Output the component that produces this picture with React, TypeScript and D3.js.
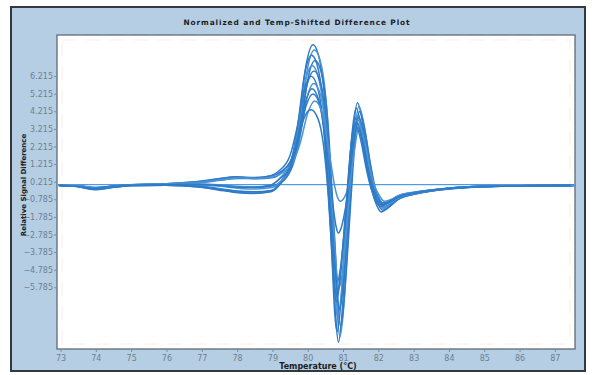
import React, { useEffect, useRef } from "react";
import * as d3 from "d3";

// temperature knots shared by every curve (°C)
const temps = [73, 73.5, 74, 74.5, 75, 76, 77, 77.5, 78, 78.5, 79, 79.25, 79.55, 79.75, 79.95, 80.15, 80.35, 80.5, 80.62, 80.72, 80.8, 80.87, 80.95, 81.05, 81.17, 81.28, 81.41, 81.56, 81.72, 81.86, 81.99, 82.12, 82.3, 82.55, 83, 83.5, 84, 85, 86, 87.5];

// small temperature offset of each sample (°C)
const shifts = [0, 0.04, -0.04, 0.06, -0.02, 0.03, -0.05, 0.02, -0.03, 0, 0.05, -0.06];

// relative signal difference of each sample
const curves = [
  [0, -0.05, -0.22, -0.1, 0, 0.02, -0.08, -0.22, -0.38, -0.42, -0.3, 0.2, 1.4, 3.6, 6.8, 8.0, 7.0, 4.4, 0.1, -4.0, -7.6, -8.9, -7.8, -4.9, -0.7, 2.8, 4.7, 3.5, 1.3, -0.2, -1.0, -1.4, -1.2, -0.8, -0.5, -0.32, -0.2, -0.07, -0.02, 0],
  [0, -0.04, -0.2, -0.08, 0.01, 0.03, -0.06, -0.18, -0.33, -0.38, -0.25, 0.25, 1.4, 3.5, 6.6, 7.7, 6.8, 4.3, 0.1, -3.9, -7.3, -8.6, -7.6, -4.7, -0.7, 2.7, 4.5, 3.4, 1.3, -0.2, -0.9, -1.3, -1.15, -0.75, -0.48, -0.3, -0.18, -0.06, -0.02, 0],
  [0, -0.06, -0.24, -0.12, -0.01, 0.01, -0.1, -0.25, -0.4, -0.45, -0.35, 0.1, 1.2, 3.3, 6.3, 7.4, 6.5, 4.1, 0.05, -3.7, -7.1, -8.3, -7.3, -4.6, -0.6, 2.6, 4.4, 3.3, 1.2, -0.3, -1.1, -1.5, -1.3, -0.85, -0.52, -0.33, -0.2, -0.07, -0.02, 0],
  [0, -0.05, -0.15, -0.05, 0.02, 0.05, 0.05, 0, -0.1, -0.12, 0, 0.4, 1.4, 3.3, 6.1, 7.1, 6.2, 3.9, 0.05, -3.6, -6.8, -8.0, -7.0, -4.4, -0.6, 2.5, 4.2, 3.1, 1.2, -0.2, -0.85, -1.2, -1.05, -0.7, -0.45, -0.28, -0.17, -0.06, -0.02, 0],
  [0, -0.04, -0.14, -0.04, 0.03, 0.06, 0.08, 0.04, -0.05, -0.08, 0.05, 0.45, 1.4, 3.2, 5.9, 6.8, 5.9, 3.7, 0.05, -3.4, -6.4, -7.5, -6.6, -4.1, -0.6, 2.4, 4.0, 3.0, 1.1, -0.2, -0.9, -1.3, -1.1, -0.75, -0.47, -0.3, -0.18, -0.06, -0.02, 0],
  [0, -0.03, -0.14, -0.05, 0.03, 0.08, 0.18, 0.3, 0.4, 0.38, 0.45, 0.8, 1.7, 3.4, 5.7, 6.5, 5.7, 3.5, 0.1, -3.2, -6.0, -7.0, -6.2, -3.9, -0.5, 2.3, 3.9, 2.9, 1.1, -0.15, -0.8, -1.1, -0.95, -0.65, -0.42, -0.27, -0.16, -0.05, -0.02, 0],
  [0, -0.03, -0.12, -0.04, 0.04, 0.1, 0.22, 0.35, 0.48, 0.42, 0.55, 0.85, 1.7, 3.3, 5.4, 6.2, 5.4, 3.3, 0.1, -2.8, -5.4, -6.3, -5.5, -3.5, -0.5, 2.3, 3.8, 2.8, 1.0, -0.2, -0.85, -1.2, -1.0, -0.7, -0.44, -0.28, -0.17, -0.06, -0.02, 0],
  [0, -0.05, -0.16, -0.06, 0.01, 0.04, 0.02, -0.05, -0.15, -0.2, -0.1, 0.3, 1.1, 2.6, 4.9, 5.8, 5.1, 3.1, 0.05, -2.6, -4.9, -5.8, -5.1, -3.2, -0.4, 2.2, 3.7, 2.7, 1.0, -0.15, -0.7, -1.0, -0.9, -0.6, -0.4, -0.26, -0.15, -0.05, -0.02, 0],
  [0, -0.06, -0.2, -0.1, 0, 0.02, -0.06, -0.2, -0.32, -0.36, -0.28, 0.1, 0.9, 2.4, 4.6, 5.5, 4.8, 2.9, 0.05, -2.5, -4.7, -5.5, -4.8, -3.0, -0.4, 2.2, 3.6, 2.7, 1.0, -0.2, -0.8, -1.1, -0.95, -0.65, -0.42, -0.27, -0.16, -0.05, -0.02, 0],
  [0, -0.03, -0.13, -0.04, 0.04, 0.1, 0.25, 0.4, 0.5, 0.45, 0.55, 0.8, 1.5, 2.7, 4.5, 5.2, 4.5, 2.8, 0.6, -1.2, -2.3, -2.7, -2.4, -1.5, 0.1, 2.1, 3.5, 2.6, 0.9, -0.15, -0.7, -1.0, -0.9, -0.6, -0.4, -0.25, -0.15, -0.05, -0.02, 0],
  [0, -0.02, -0.12, -0.03, 0.05, 0.1, 0.2, 0.32, 0.42, 0.4, 0.5, 0.75, 1.4, 2.5, 4.1, 4.8, 4.2, 2.6, 1.1, -0.1, -0.7, -0.9, -0.8, -0.4, 0.5, 2.1, 3.4, 2.5, 0.9, -0.1, -0.6, -0.9, -0.8, -0.55, -0.37, -0.24, -0.14, -0.05, -0.02, 0],
  [0, -0.05, -0.15, -0.05, 0.02, 0.05, 0.06, 0.02, -0.08, -0.1, 0, 0.35, 1.0, 2.2, 3.8, 4.3, 3.8, 2.4, 0, -3.0, -5.6, -6.6, -5.8, -3.6, -0.5, 2.1, 3.5, 2.6, 0.95, -0.2, -0.85, -1.2, -1.0, -0.7, -0.44, -0.28, -0.17, -0.06, -0.02, 0],
];

const xTicks = [73, 74, 75, 76, 77, 78, 79, 80, 81, 82, 83, 84, 85, 86, 87];
const yTicks = [6.215, 5.215, 4.215, 3.215, 2.215, 1.215, 0.215, -0.785, -1.785, -2.785, -3.785, -4.785, -5.785];

const App = () => {
  const svgRef = useRef<SVGSVGElement>(null);

  useEffect(() => {
    const W = 594;
    const H = 375;
    const plot = { left: 57, top: 35, right: 575, bottom: 349 };
    const svg = d3.select(svgRef.current).attr("width", W).attr("height", H);
    svg.selectAll("*").remove();

    // outer panel
    svg.append("rect")
      .attr("x", 11).attr("y", 7).attr("width", 574).attr("height", 364)
      .attr("fill", "#b6cee4").attr("stroke", "#34383f").attr("stroke-width", 2);

    svg.append("text")
      .attr("x", 297).attr("y", 25)
      .attr("text-anchor", "middle")
      .style("font-family", "DejaVu Sans")
      .style("font-weight", "bold")
      .style("font-size", "7.4px")
      .style("letter-spacing", "0.9px")
      .attr("fill", "#1d1d1d")
      .text("Normalized and Temp-Shifted Difference Plot");

    // plot area
    svg.append("rect")
      .attr("x", plot.left).attr("y", plot.top)
      .attr("width", plot.right - plot.left).attr("height", plot.bottom - plot.top)
      .attr("fill", "#ffffff").attr("stroke", "#5d6b78").attr("stroke-width", 1.3);

    svg.append("rect")
      .attr("x", plot.left + 5).attr("y", plot.top + 5)
      .attr("width", plot.right - plot.left - 10).attr("height", plot.bottom - plot.top - 10)
      .attr("fill", "none").attr("stroke", "#fbece7").attr("stroke-width", 1)
      .attr("stroke-dasharray", "14,10");

    const x = d3.scaleLinear().domain([72.9, 87.57]).range([plot.left, plot.right]);
    const y = d3.scaleLinear().domain([-9.29, 8.55]).range([plot.bottom, plot.top]);

    const xAxis = svg.append("g")
      .attr("transform", `translate(0,${plot.bottom})`)
      .call(d3.axisBottom(x).tickValues(xTicks).tickSize(3).tickPadding(3).tickFormat(d3.format("d")));
    const yAxis = svg.append("g")
      .attr("transform", `translate(${plot.left},0)`)
      .call(d3.axisLeft(y).tickValues(yTicks).tickSize(3).tickPadding(1).tickFormat(d3.format(".3f")));

    [xAxis, yAxis].forEach((g) => {
      g.select(".domain").remove();
      g.selectAll("line").attr("stroke", "#7d8c99");
      g.selectAll("text")
        .style("font-family", "DejaVu Sans")
        .style("font-size", "8px")
        .attr("fill", "#6f7f8f");
    });

    // zero line
    svg.append("rect")
      .attr("x", plot.left + 1).attr("width", plot.right - plot.left - 2)
      .attr("y", Math.round(y(0)) - 1).attr("height", 1.2)
      .attr("fill", "#4c9be6");

    const line = d3.line<number>()
      .x((_, i) => x(temps[i]))
      .y((d) => y(d))
      .curve(d3.curveMonotoneX);

    svg.append("g")
      .selectAll("path")
      .data(curves)
      .enter()
      .append("path")
      .attr("transform", (_, i) => `translate(${x(73 + shifts[i]) - x(73)},0)`)
      .attr("d", (d) => line(d))
      .attr("fill", "none")
      .attr("stroke", (_, i) => (i % 3 === 1 ? "#4a93d6" : "#2f7bc6"))
      .attr("stroke-width", 1.5);

    // axis titles
    svg.append("text")
      .attr("x", 318).attr("y", 369)
      .attr("text-anchor", "middle")
      .style("font-family", "DejaVu Sans")
      .style("font-weight", "bold")
      .style("font-size", "8px")
      .attr("fill", "#1d1d1d")
      .text("Temperature (°C)");

    svg.append("text")
      .attr("transform", "translate(26,185) rotate(-90)")
      .attr("text-anchor", "middle")
      .style("font-family", "DejaVu Sans")
      .style("font-weight", "bold")
      .style("font-size", "7px")
      .attr("fill", "#1d1d1d")
      .text("Relative Signal Difference");
  }, []);

  return (
    <div style={{ position: "absolute", left: 0, top: 0 }}>
      <svg ref={svgRef}></svg>
    </div>
  );
};

export default App;
